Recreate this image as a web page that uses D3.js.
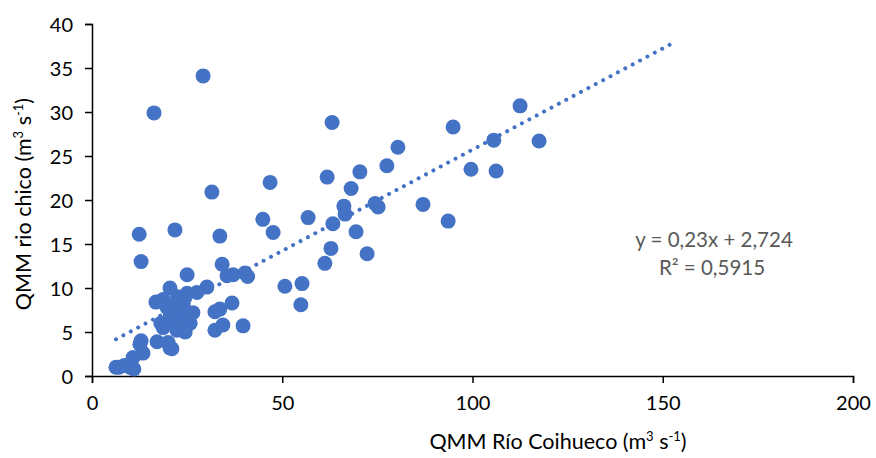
<!DOCTYPE html>
<html>
<head>
<meta charset="utf-8">
<style>
    body { margin: 0; background: white; }
    svg { display: block; }
    .tick text { font-family: "Lato", "Open Sans", sans-serif; font-size: 20px; fill: #000; }
    .label { font-family: "Lato", "Open Sans", sans-serif; font-size: 21.5px; fill: #000; }
    .eq { font-family: "Lato", "Open Sans", sans-serif; font-size: 20.5px; fill: #595959; }
</style>
</head>
<body>
<svg width="876" height="458"></svg>
<script src="https://cdnjs.cloudflare.com/ajax/libs/d3/7.8.5/d3.min.js"></script>
<script>
    // caudales medios mensuales (m3/s)
    var coihueco = [16.3, 29.2, 63.1, 112.5, 94.9, 105.6, 117.5, 80.4,
        46.8, 61.8, 70.4, 77.5, 68.1, 99.6, 106.2, 31.5,
        87.0, 93.6, 66.2, 66.5, 74.4, 75.2, 56.8, 44.9, 63.3, 69.4, 47.6,
        12.4, 21.8, 33.6, 62.8, 61.2, 72.3, 12.9,
        34.2, 25.0, 35.5, 37.1, 40.2, 40.9, 55.2, 50.7, 30.2,
        20.5, 25.0, 27.6, 16.8, 18.7, 36.8, 33.6, 54.9,
        19.7, 22.3, 26.5, 23.1, 32.3, 20.5, 21.3, 23.9, 25.8, 18.7, 22.3, 32.3, 34.4, 39.7,
        17.1, 20.0, 20.5, 21.0, 12.9, 12.6, 13.4, 10.8, 10.0, 7.1, 6.3, 8.5, 11.0,
        21.5, 24.0, 22.5, 18.1, 24.5];
    var chico = [29.9, 34.1, 28.8, 30.7, 28.3, 26.8, 26.7, 26.0,
        22.0, 22.6, 23.2, 23.9, 21.3, 23.5, 23.3, 20.9,
        19.5, 17.6, 19.3, 18.4, 19.6, 19.2, 18.0, 17.8, 17.3, 16.4, 16.3,
        16.1, 16.6, 15.9, 14.5, 12.8, 13.9, 13.0,
        12.7, 11.5, 11.4, 11.5, 11.7, 11.3, 10.5, 10.2, 10.1,
        10.0, 9.4, 9.5, 8.4, 8.7, 8.3, 7.6, 8.1,
        7.8, 7.5, 7.2, 7.0, 7.3, 6.7, 6.3, 6.1, 6.0, 5.5, 5.2, 5.2, 5.8, 5.7,
        3.9, 3.8, 3.2, 3.1, 4.0, 3.6, 2.6, 2.1, 1.0, 1.0, 1.0, 1.2, 0.8,
        8.0, 8.2, 9.0, 6.0, 5.0];
    var xTicks = [0, 50, 100, 150, 200];
    var yTicks = [0, 5, 10, 15, 20, 25, 30, 35, 40];
    var slope = 0.23, intercept = 2.724, trendEnd = 153.2;
    var eqText = "y = 0,23x + 2,724";
    var r2Text = "R² = 0,5915";

    var points = coihueco.map(function(d, i) { return [d, chico[i]]; });

    var svg = d3.select("svg");
    var x = d3.scaleLinear().domain([0, 200]).range([92, 853]);
    var y = d3.scaleLinear().domain([0, 40]).range([376, 24]);

    // ejes
    var gx = svg.append("g").attr("transform", "translate(0,376)")
        .call(d3.axisBottom(x).tickValues(xTicks).tickSize(7).tickPadding(9));
    var gy = svg.append("g").attr("transform", "translate(92,0)")
        .call(d3.axisLeft(y).tickValues(yTicks).tickSize(7).tickPadding(12));
    [gx, gy].forEach(function(g) {
        g.select(".domain").attr("stroke", "#000").attr("stroke-width", 1.5);
        g.selectAll(".tick line").attr("stroke", "#000").attr("stroke-width", 1.5);
        g.selectAll(".tick text").attr("fill", "#000");
    });
    gx.selectAll(".tick text").attr("dy", "0.9em");
    gy.selectAll(".tick text").attr("dy", "0.35em");

    // puntos
    svg.append("g").selectAll("circle")
        .data(points)
        .enter().append("circle")
        .attr("cx", function(d) { return x(d[0]); })
        .attr("cy", function(d) { return y(d[1]); })
        .attr("r", 7.5)
        .attr("fill", "#4472C4");

    // linea de tendencia
    var xMin = d3.min(coihueco);
    svg.append("line")
        .attr("x1", x(xMin)).attr("y1", y(slope * xMin + intercept))
        .attr("x2", x(trendEnd)).attr("y2", y(slope * trendEnd + intercept))
        .attr("stroke", "#4472C4")
        .attr("stroke-width", 4)
        .attr("stroke-linecap", "round")
        .attr("stroke-dasharray", "0.01,8.35");

    svg.append("text").attr("class", "eq")
        .attr("x", 714).attr("y", 247).attr("text-anchor", "middle")
        .text(eqText);
    svg.append("text").attr("class", "eq")
        .attr("x", 712).attr("y", 275).attr("text-anchor", "middle")
        .text(r2Text);

    // titulos de ejes
    var xl = svg.append("text").attr("class", "label")
        .attr("x", 558).attr("y", 449).attr("text-anchor", "middle");
    xl.append("tspan").text("QMM Río Coihueco (m");
    xl.append("tspan").attr("dy", -8).attr("font-size", "13px").text("3");
    xl.append("tspan").attr("dy", 8).text(" s");
    xl.append("tspan").attr("dy", -8).attr("font-size", "13px").text("-1");
    xl.append("tspan").attr("dy", 8).text(")");

    var yl = svg.append("text").attr("class", "label")
        .attr("transform", "translate(31,204) rotate(-90)")
        .attr("text-anchor", "middle");
    yl.append("tspan").text("QMM rio chico (m");
    yl.append("tspan").attr("dy", -8).attr("font-size", "13px").text("3");
    yl.append("tspan").attr("dy", 8).text(" s");
    yl.append("tspan").attr("dy", -8).attr("font-size", "13px").text("-1");
    yl.append("tspan").attr("dy", 8).text(")");
</script>
</body>
</html>
